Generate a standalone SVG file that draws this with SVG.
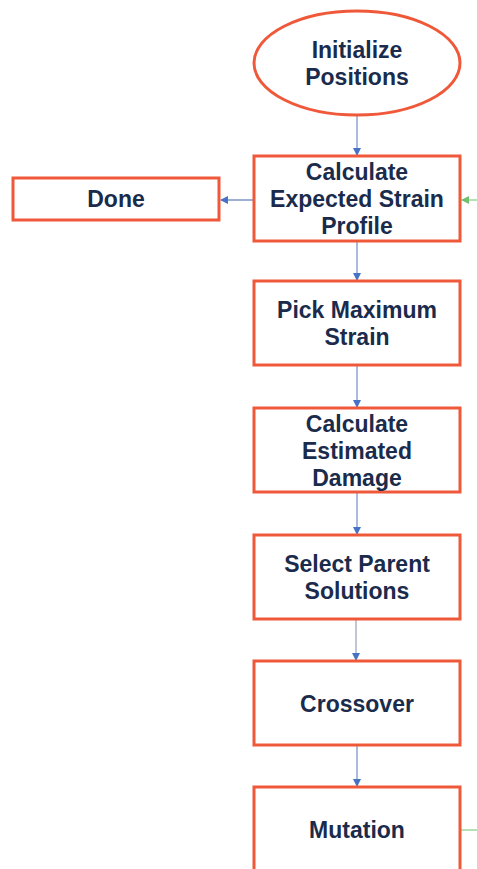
<svg xmlns="http://www.w3.org/2000/svg" width="477" height="869" viewBox="0 0 477 869">
<defs>
<marker id="ab" markerWidth="8" markerHeight="8" refX="7" refY="4" orient="auto" markerUnits="userSpaceOnUse"><path d="M0,0 L8,4 L0,8 Z" fill="#4472c4"/></marker>
<marker id="ag" markerWidth="8" markerHeight="8" refX="7" refY="4" orient="auto" markerUnits="userSpaceOnUse"><path d="M0,0 L8,4 L0,8 Z" fill="#70c070"/></marker>
<style>
.n{fill:#fff;stroke:#f0583a;stroke-width:3}
.t{font-family:"Liberation Sans",Arial,sans-serif;font-weight:bold;font-size:23px;fill:#1a2b4c;text-anchor:middle}
.c{stroke:#7d95c9;stroke-width:1.3;fill:none}
.g{stroke:#90d090;stroke-width:1.3;fill:none}
</style>
</defs>
<rect width="477" height="869" fill="#fff"/>
<g id="connectors">
<line class="c" x1="357" y1="116" x2="357" y2="155" marker-end="url(#ab)"/>
<line class="c" x1="357" y1="242" x2="357" y2="280" marker-end="url(#ab)"/>
<line class="c" x1="357" y1="366" x2="357" y2="407" marker-end="url(#ab)"/>
<line class="c" x1="357" y1="493" x2="357" y2="534" marker-end="url(#ab)"/>
<line class="c" x1="356" y1="620" x2="356" y2="660" marker-end="url(#ab)" style="stroke:#a0a8b8"/>
<line class="c" x1="357" y1="746" x2="357" y2="786" marker-end="url(#ab)"/>
<line class="c" x1="254" y1="200" x2="221" y2="200" marker-end="url(#ab)"/>
<line class="g" x1="477" y1="200" x2="462" y2="200" marker-end="url(#ag)"/>
<line class="g" x1="461" y1="830" x2="477" y2="830"/>
</g>
<g id="init"><ellipse class="n" cx="357" cy="63" rx="103" ry="52"/><text class="t" x="357" y="58">Initialize</text><text class="t" x="357" y="85">Positions</text></g>
<g id="calc-strain"><rect class="n" x="254" y="156" width="206" height="85"/><text class="t" x="357" y="180">Calculate</text><text class="t" x="357" y="207">Expected Strain</text><text class="t" x="357" y="234">Profile</text></g>
<g id="done"><rect class="n" x="13" y="178" width="206" height="42"/><text class="t" x="116" y="207">Done</text></g>
<g id="pick"><rect class="n" x="254" y="281" width="206" height="84"/><text class="t" x="357" y="318">Pick Maximum</text><text class="t" x="357" y="345">Strain</text></g>
<g id="damage"><rect class="n" x="254" y="408" width="206" height="84"/><text class="t" x="357" y="432">Calculate</text><text class="t" x="357" y="459">Estimated</text><text class="t" x="357" y="486">Damage</text></g>
<g id="select"><rect class="n" x="254" y="535" width="206" height="84"/><text class="t" x="357" y="572">Select Parent</text><text class="t" x="357" y="599">Solutions</text></g>
<g id="crossover"><rect class="n" x="254" y="661" width="206" height="84"/><text class="t" x="357" y="712">Crossover</text></g>
<g id="mutation"><rect class="n" x="254" y="787" width="206" height="100"/><text class="t" x="357" y="838">Mutation</text></g>
</svg>
